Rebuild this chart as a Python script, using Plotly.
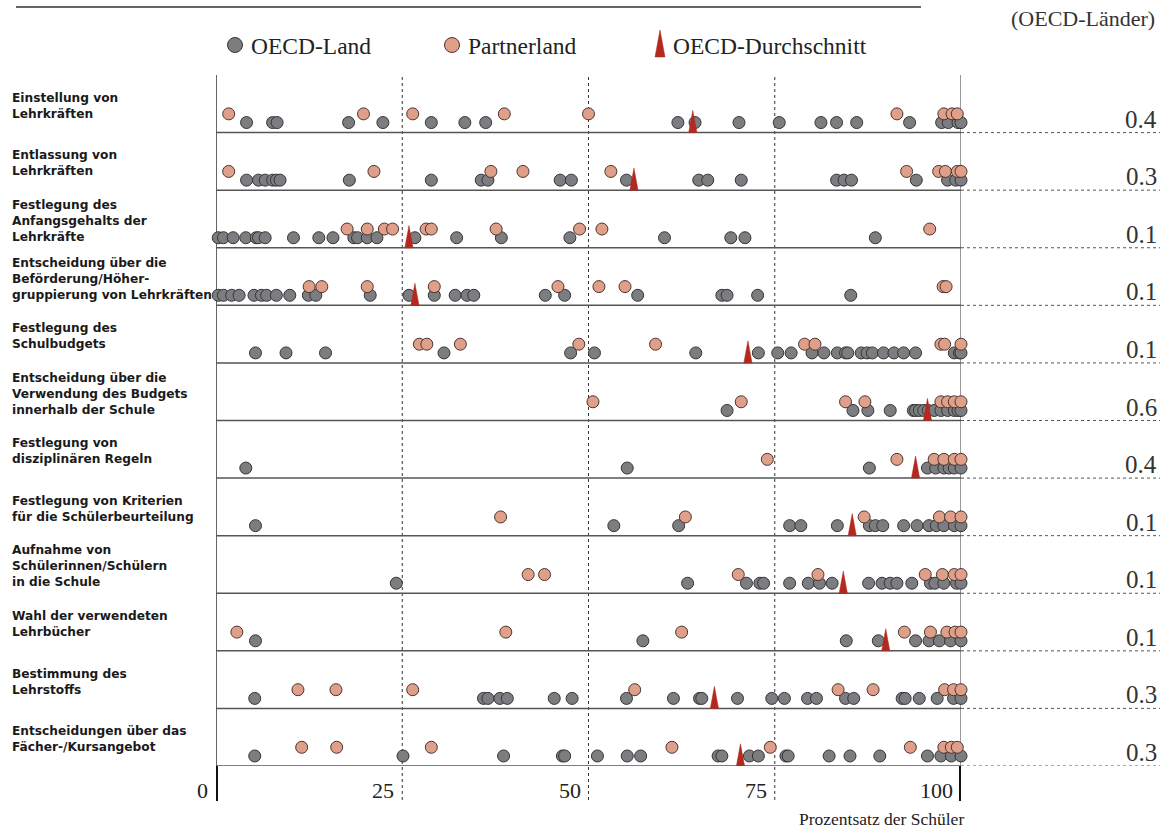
import plotly.graph_objects as go

categories = [
    "Einstellung von<br>Lehrkräften",
    "Entlassung von<br>Lehrkräften",
    "Festlegung des<br>Anfangsgehalts der<br>Lehrkräfte",
    "Entscheidung über die<br>Beförderung/Höher-<br>gruppierung von Lehrkräften",
    "Festlegung des<br>Schulbudgets",
    "Entscheidung über die<br>Verwendung des Budgets<br>innerhalb der Schule",
    "Festlegung von<br>disziplinären Regeln",
    "Festlegung von Kriterien<br>für die Schülerbeurteilung",
    "Aufnahme von<br>Schülerinnen/Schülern<br>in die Schule",
    "Wahl der verwendeten<br>Lehrbücher",
    "Bestimmung des<br>Lehrstoffs",
    "Entscheidungen über das<br>Fächer-/Kursangebot",
]

oecd_land = [
    [4.1, 7.6, 8.2, 17.8, 22.4, 28.9, 33.4, 36.2, 62.0, 64.3, 70.2, 75.6, 81.2, 83.3, 86.0, 93.1, 97.4, 98.3, 99.6, 100],
    [4.1, 5.7, 6.6, 7.6, 8.1, 8.6, 17.9, 28.9, 35.6, 36.5, 46.2, 47.7, 55.1, 64.8, 66.0, 70.5, 83.3, 84.3, 85.3, 94.0, 98.2, 99.3, 100],
    [0.3, 1.0, 2.3, 4.0, 5.4, 5.7, 6.6, 10.4, 13.8, 15.7, 18.5, 19.0, 20.3, 21.6, 26.7, 32.3, 38.3, 47.5, 60.2, 69.1, 71.0, 88.5],
    [0.3, 1.0, 2.1, 3.1, 5.1, 6.1, 6.8, 8.1, 9.9, 12.4, 13.4, 20.7, 25.9, 29.3, 32.1, 33.7, 34.6, 44.2, 46.8, 56.6, 67.9, 68.6, 72.7, 85.2],
    [5.3, 9.4, 14.7, 30.6, 47.6, 50.8, 64.4, 72.8, 75.4, 77.2, 80.0, 81.6, 83.4, 84.5, 84.8, 86.6, 87.4, 88.1, 89.6, 91.0, 92.3, 93.9, 99.1, 99.8, 100],
    [68.6, 85.5, 87.5, 90.5, 93.6, 93.9, 94.4, 95.0, 95.6, 96.4, 97.3, 98.2, 99.1, 99.6, 100],
    [4.0, 55.2, 87.7, 95.5, 96.6, 97.7, 98.4, 99.1, 100],
    [5.3, 53.4, 62.1, 77.0, 78.5, 83.4, 87.7, 88.5, 89.5, 92.3, 94.1, 95.7, 96.7, 97.7, 99.1, 100],
    [24.2, 63.3, 71.2, 73.0, 73.5, 77.0, 79.5, 81.0, 82.7, 87.6, 89.4, 90.5, 91.4, 93.4, 95.9, 96.5, 97.7, 99.4, 100],
    [5.3, 57.3, 84.6, 88.9, 93.9, 95.7, 97.1, 98.6, 100],
    [5.2, 35.9, 36.5, 38.1, 39.1, 45.4, 47.8, 55.1, 61.4, 64.9, 65.2, 70.0, 74.6, 76.3, 79.4, 80.6, 84.5, 85.6, 92.1, 92.5, 94.4, 96.8, 99.0, 100],
    [5.2, 25.1, 38.6, 46.5, 46.8, 51.2, 55.2, 57.0, 67.4, 67.9, 71.6, 72.8, 76.5, 76.8, 82.3, 85.1, 89.1, 95.5, 97.3, 98.7, 100],
]

partner_land = [
    [1.7, 19.8, 26.4, 38.7, 50.0, 91.4, 97.7, 98.8, 99.5],
    [1.7, 21.2, 36.9, 41.2, 53.0, 92.7, 97.0, 97.9, 99.5, 100],
    [17.6, 20.3, 22.6, 23.7, 28.2, 28.9, 37.6, 48.8, 51.8, 95.8],
    [12.5, 14.2, 20.3, 29.3, 45.9, 51.4, 54.9, 97.6, 98.0],
    [27.3, 28.3, 32.8, 48.7, 59.0, 79.0, 80.4, 97.3, 97.8, 100],
    [50.6, 70.5, 84.5, 87.1, 97.3, 98.2, 99.1, 100],
    [74.0, 91.4, 96.4, 97.7, 99.1, 100],
    [38.2, 63.0, 87.0, 97.1, 98.6, 100],
    [41.9, 44.1, 70.1, 80.8, 95.2, 97.5, 99.1, 100],
    [2.8, 38.9, 62.5, 92.4, 95.9, 98.1, 99.2, 100],
    [11.0, 16.1, 26.4, 56.2, 83.5, 88.2, 97.8, 99.0, 100],
    [11.5, 16.2, 28.9, 61.2, 74.4, 93.2, 97.7, 98.7, 99.5],
]

oecd_average = [64.0, 56.1, 25.9, 26.7, 71.4, 95.5, 93.9, 85.4, 84.2, 89.9, 66.9, 70.4]
variance = ["0.4", "0.3", "0.1", "0.1", "0.1", "0.6", "0.4", "0.1", "0.1", "0.1", "0.3", "0.3"]
tick_values = [0, 25, 50, 75, 100]
legend_labels = ["OECD-Land", "Partnerland", "OECD-Durchschnitt"]

W, H = 1160, 829
L, R, T, B = 216, 961, 75, 766
n = len(categories)

SERIF = "Liberation Serif"
SANS = "DejaVu Sans"
GRAY = "#7b7d80"
SALMON = "#e09f89"
RED = "#b3291f"


def pxx(p):
    return (p - L) / (R - L)


def pxy(p):
    return (B - p) / (B - T)


fig = go.Figure()

OY, PY = 0.174, 0.325

xs, ys = [], []
for i, vals in enumerate(oecd_land):
    base = n - 1 - i
    xs += vals
    ys += [base + OY] * len(vals)
fig.add_trace(go.Scatter(x=xs, y=ys, mode="markers", cliponaxis=False, showlegend=False,
                         marker=dict(size=12, color=GRAY, line=dict(color="#353535", width=1))))

xs, ys = [], []
for i, vals in enumerate(partner_land):
    base = n - 1 - i
    xs += vals
    ys += [base + PY] * len(vals)
fig.add_trace(go.Scatter(x=xs, y=ys, mode="markers", cliponaxis=False, showlegend=False,
                         marker=dict(size=12, color=SALMON, line=dict(color="#4a3530", width=1))))

tx, ty = [], []
for i, v in enumerate(oecd_average):
    base = n - 1 - i
    tx += [v - 0.55, v, v + 0.55, v - 0.55, None]
    ty += [base, base + 0.385, base, base, None]
fig.add_trace(go.Scatter(x=tx, y=ty, mode="lines", fill="toself", fillcolor=RED,
                         line=dict(color=RED, width=0.5), cliponaxis=False, showlegend=False))

shapes = []
annotations = []

# row lines, dotted extensions, variance values, row labels
for i in range(n):
    base = n - 1 - i
    shapes.append(dict(type="line", xref="x", yref="y", x0=0, x1=100, y0=base, y1=base,
                       line=dict(color="#555555", width=1.5), layer="below"))
    shapes.append(dict(type="line", xref="paper", yref="y", x0=1.0, x1=pxx(1160), y0=base, y1=base,
                       line=dict(color="#555555", width=1, dash="dot"), layer="below"))
    annotations.append(dict(xref="paper", yref="y", x=pxx(1159), y=base, xanchor="right", yanchor="bottom",
                            text=variance[i], showarrow=False, yshift=-2,
                            font=dict(family=SERIF, size=25, color="#333333")))
    annotations.append(dict(xref="paper", yref="y", x=pxx(10), y=base + 0.5, xanchor="left", yanchor="middle",
                            align="left", text="<b>" + categories[i] + "</b>", showarrow=False, yshift=-2,
                            font=dict(family=SANS, size=12.2, color="#1a1a1a")))

# vertical gridlines and ticks
for v in tick_values:
    if v in (0, 100):
        shapes.append(dict(type="line", xref="x", yref="paper", x0=v, x1=v, y0=0, y1=1,
                           line=dict(color="#333333" if v == 0 else "#777777", width=1.5), layer="below"))
        shapes.append(dict(type="line", xref="x", yref="paper", x0=v, x1=v, y0=pxy(801), y1=0,
                           line=dict(color="#111111", width=4)))
    else:
        shapes.append(dict(type="line", xref="x", yref="paper", x0=v, x1=v, y0=pxy(800), y1=1,
                           line=dict(color="#333333", width=1, dash="dot"), layer="below"))
    annotations.append(dict(xref="x", yref="paper", x=v, y=pxy(790), xanchor="right", yanchor="middle",
                            text=str(v), showarrow=False, xshift=-6,
                            font=dict(family=SERIF, size=22, color="#222222")))

annotations.append(dict(xref="paper", yref="paper", x=pxx(966), y=pxy(819), xanchor="right", yanchor="middle",
                        text="Prozentsatz der Schüler", showarrow=False,
                        font=dict(family=SERIF, size=17.5, color="#222222")))

# top rule and header text
shapes.append(dict(type="line", xref="paper", yref="paper", x0=pxx(16), x1=pxx(921), y0=pxy(7), y1=pxy(7),
                   line=dict(color="#666666", width=2)))
annotations.append(dict(xref="paper", yref="paper", x=pxx(1157), y=pxy(19), xanchor="right", yanchor="middle",
                        text="(OECD-Länder)", showarrow=False,
                        font=dict(family=SERIF, size=22, color="#333333")))

# legend (manual)
r = 7.5
for cx, col, lc in [(235, GRAY, "#353535"), (452, SALMON, "#4a3530")]:
    shapes.append(dict(type="circle", xref="paper", yref="paper",
                       x0=pxx(cx - r), x1=pxx(cx + r), y0=pxy(45 + r), y1=pxy(45 - r),
                       fillcolor=col, line=dict(color=lc, width=1)))
shapes.append(dict(type="path", xref="paper", yref="paper",
                   path="M {} {} L {} {} L {} {} Z".format(pxx(655), pxy(57), pxx(660), pxy(30), pxx(665), pxy(57)),
                   fillcolor=RED, line=dict(color=RED, width=0.5)))
for lx, lab in zip([249, 466, 671], legend_labels):
    annotations.append(dict(xref="paper", yref="paper", x=pxx(lx), y=pxy(46), xanchor="left", yanchor="middle",
                            text=lab, showarrow=False,
                            font=dict(family=SERIF, size=23.5, color="#222222")))

fig.update_layout(
    width=W, height=H,
    margin=dict(l=L, r=W - R, t=T, b=H - B, pad=0),
    paper_bgcolor="white", plot_bgcolor="white",
    xaxis=dict(range=[0, 100], visible=False, showgrid=False, zeroline=False, fixedrange=True),
    yaxis=dict(range=[0, n], visible=False, showgrid=False, zeroline=False, fixedrange=True),
    shapes=shapes, annotations=annotations, showlegend=False,
)

fig.write_html("out.html", config={"displayModeBar": False},
               post_script="document.body.style.margin='0';document.body.style.overflow='hidden';")
